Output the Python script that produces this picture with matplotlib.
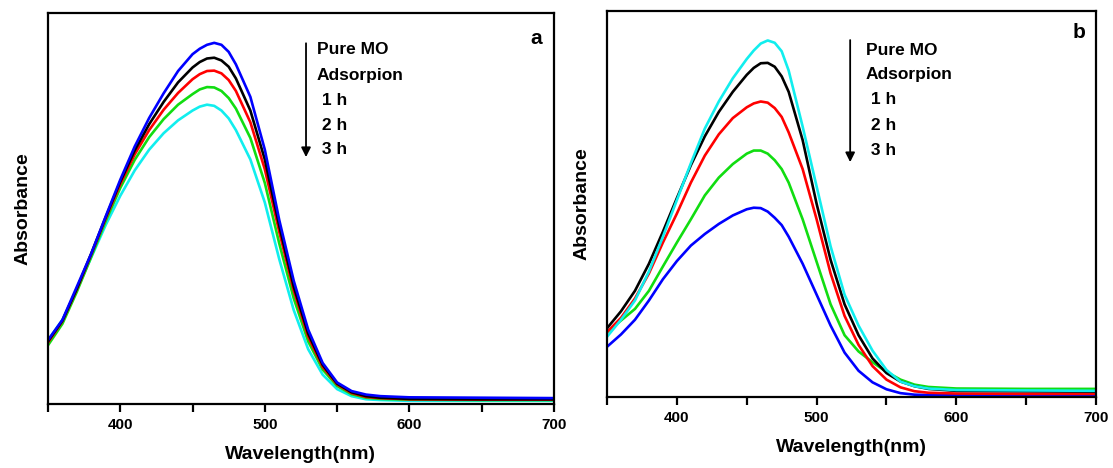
import matplotlib
matplotlib.use("Agg")
import matplotlib.pyplot as plt

# wavelength grid (nm) shared by all spectra
wl = [350, 360, 370, 380, 390, 400, 410, 420, 430, 440, 450, 455, 460, 465, 470,
      475, 480, 490, 500, 510, 520, 530, 540, 550, 560, 570, 580, 600, 650, 700]

# panel a: absorbance (arbitrary units)
a_blue = [0.163, 0.215, 0.300, 0.385, 0.480, 0.573, 0.658, 0.731, 0.794, 0.851, 0.894, 0.908, 0.918, 0.923, 0.918,
          0.900, 0.868, 0.785, 0.650, 0.470, 0.315, 0.190, 0.105, 0.055, 0.033, 0.024, 0.020, 0.017, 0.016, 0.015]
a_black = [0.160, 0.213, 0.295, 0.385, 0.478, 0.568, 0.648, 0.715, 0.772, 0.822, 0.860, 0.874, 0.883, 0.885, 0.878,
           0.862, 0.832, 0.750, 0.625, 0.455, 0.300, 0.180, 0.100, 0.052, 0.030, 0.020, 0.016, 0.013, 0.012, 0.012]
a_red = [0.157, 0.212, 0.294, 0.383, 0.475, 0.562, 0.638, 0.700, 0.752, 0.795, 0.830, 0.843, 0.851, 0.852, 0.845,
         0.828, 0.800, 0.720, 0.600, 0.440, 0.290, 0.172, 0.095, 0.050, 0.028, 0.018, 0.015, 0.012, 0.011, 0.011]
a_green = [0.150, 0.205, 0.287, 0.377, 0.468, 0.552, 0.624, 0.682, 0.728, 0.765, 0.792, 0.804, 0.810, 0.809, 0.800,
           0.782, 0.755, 0.680, 0.565, 0.410, 0.270, 0.160, 0.088, 0.046, 0.025, 0.016, 0.013, 0.011, 0.010, 0.010]
a_cyan = [0.163, 0.215, 0.292, 0.375, 0.458, 0.532, 0.597, 0.650, 0.692, 0.725, 0.750, 0.760, 0.765, 0.762, 0.750,
          0.730, 0.700, 0.625, 0.515, 0.370, 0.240, 0.140, 0.075, 0.038, 0.020, 0.012, 0.010, 0.008, 0.008, 0.008]

# panel b
b_cyan = [0.156, 0.200, 0.250, 0.325, 0.415, 0.510, 0.605, 0.695, 0.765, 0.825, 0.875, 0.897, 0.915, 0.923, 0.917,
          0.895, 0.845, 0.700, 0.545, 0.390, 0.265, 0.185, 0.120, 0.070, 0.040, 0.028, 0.022, 0.018, 0.017, 0.016]
b_black = [0.178, 0.222, 0.275, 0.345, 0.428, 0.515, 0.600, 0.675, 0.738, 0.790, 0.834, 0.852, 0.864, 0.865, 0.855,
           0.830, 0.790, 0.665, 0.500, 0.355, 0.240, 0.160, 0.100, 0.062, 0.040, 0.028, 0.021, 0.016, 0.015, 0.014]
b_red = [0.168, 0.205, 0.255, 0.320, 0.400, 0.475, 0.555, 0.625, 0.680, 0.722, 0.750, 0.760, 0.765, 0.762, 0.748,
         0.725, 0.685, 0.590, 0.460, 0.320, 0.210, 0.135, 0.080, 0.045, 0.025, 0.015, 0.011, 0.009, 0.008, 0.008]
b_green = [0.168, 0.198, 0.228, 0.275, 0.338, 0.400, 0.460, 0.522, 0.568, 0.603, 0.630, 0.638, 0.638, 0.630, 0.613,
           0.590, 0.555, 0.460, 0.350, 0.240, 0.160, 0.118, 0.090, 0.065, 0.045, 0.032, 0.026, 0.022, 0.021, 0.021]
b_blue = [0.130, 0.162, 0.200, 0.250, 0.305, 0.352, 0.392, 0.422, 0.448, 0.470, 0.486, 0.490, 0.489, 0.480, 0.464,
          0.445, 0.415, 0.345, 0.265, 0.185, 0.115, 0.068, 0.038, 0.020, 0.010, 0.006, 0.005, 0.005, 0.005, 0.005]

legend_lines = ["Pure MO", "Adsorpion", " 1 h", " 2 h", " 3 h"]

BLUE, BLACK, RED, GREEN, CYAN = "#0000ff", "#000000", "#ff0000", "#11dd11", "#11eeee"

plt.rcParams["font.family"] = ["Liberation Sans", "DejaVu Sans"]
plt.rcParams["font.weight"] = "bold"

fig = plt.figure(figsize=(11.13, 4.68), dpi=100)
ax_a = fig.add_axes([0.0431, 0.1368, 0.4546, 0.836])
ax_b = fig.add_axes([0.5454, 0.1517, 0.4394, 0.8254])

series_a = [(a_cyan, CYAN), (a_green, GREEN), (a_red, RED), (a_black, BLACK), (a_blue, BLUE)]
series_b = [(b_blue, BLUE), (b_green, GREEN), (b_red, RED), (b_black, BLACK), (b_cyan, CYAN)]


def style(ax, letter, arrow_x, arrow_y0, arrow_y1, text_x, text_ys, letter_y):
    ax.set_xlim(350, 700)
    ax.set_ylim(0, 1)
    ax.set_xticks([400, 500, 600, 700])
    ax.set_xticks([350, 450, 550, 650], minor=True)
    ax.set_yticks([])
    ax.tick_params(axis="x", which="both", direction="out", length=6, width=1.6,
                   labelsize=11, pad=4)
    for lab in ax.get_xticklabels():
        lab.set_fontweight("bold")
    for sp in ax.spines.values():
        sp.set_linewidth(1.6)
    ax.set_xlabel("Wavelength(nm)", fontsize=14, fontweight="bold", labelpad=10)
    ax.set_ylabel("Absorbance", fontsize=14, fontweight="bold", labelpad=12)
    ax.annotate("", xy=(arrow_x, arrow_y1), xytext=(arrow_x, arrow_y0),
                arrowprops=dict(arrowstyle="-|>", color="black", lw=1.3,
                                mutation_scale=14, shrinkA=0, shrinkB=0))
    for txt, ty in zip(legend_lines, text_ys):
        ax.text(text_x, ty, txt, fontsize=12.5, fontweight="bold", va="center", ha="left")
    ax.text(0.965, letter_y, letter, transform=ax.transAxes, fontsize=15,
            fontweight="bold", ha="center", va="center")


for ys, c in series_a:
    ax_a.plot(wl, ys, color=c, lw=1.9)
for ys, c in series_b:
    ax_b.plot(wl, ys, color=c, lw=1.9)

style(ax_a, "a", 528.5, 0.922, 0.631, 536, [0.905, 0.840, 0.775, 0.712, 0.650], 0.935)
style(ax_b, "b", 524, 0.924, 0.608, 535, [0.898, 0.834, 0.769, 0.702, 0.637], 0.943)

fig.savefig("out.png", dpi=100)
